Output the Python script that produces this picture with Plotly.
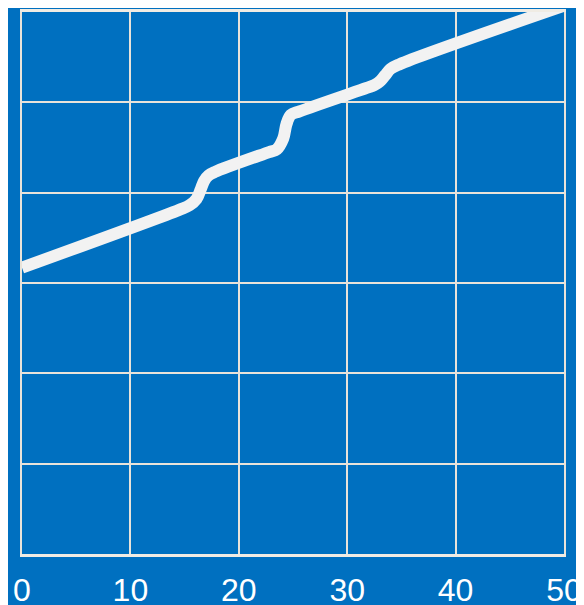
import plotly.graph_objects as go

# Data (points along the plotted curve)
x_vals = [0, 14.5, 15.45, 16.1, 16.5, 16.8, 17.2, 17.8,
          22.8, 23.5, 24.1, 24.4, 24.8, 25.6,
          31.8, 32.5, 33.0, 33.5, 34.0, 34.8, 50]
y_vals = [3.17, 3.81, 3.86, 3.93, 4.04, 4.13, 4.19, 4.23,
          4.45, 4.48, 4.60, 4.76, 4.86, 4.90,
          5.16, 5.19, 5.23, 5.30, 5.37, 5.42, 6.07]
x_ticks = [0, 10, 20, 30, 40, 50]

BG = "#0070C0"
GRID = "#E8E3DA"

fig = go.Figure()
fig.add_trace(go.Scatter(
    x=x_vals, y=y_vals, mode="lines",
    line=dict(color="#F2F2F2", width=12, shape="spline", smoothing=1),
    hoverinfo="skip", showlegend=False,
))

fig.update_layout(
    width=576, height=597,
    margin=dict(l=14, r=20, t=4, b=51, autoexpand=False),
    paper_bgcolor=BG, plot_bgcolor=BG,
    font=dict(family="Liberation Sans, Arial, sans-serif", color="white"),
    xaxis=dict(
        range=[0, 50], tickvals=x_ticks, ticktext=[str(v) for v in x_ticks],
        showgrid=True, gridcolor=GRID, gridwidth=2,
        zeroline=False, showline=True, linecolor="#F0ECE4", linewidth=2.5,
        mirror=True,
        ticks="", tickfont=dict(size=32, color="white"),
        ticklabelstandoff=6, automargin=False,
    ),
    yaxis=dict(
        range=[0, 6], dtick=1, showticklabels=False,
        showgrid=True, gridcolor=GRID, gridwidth=2,
        zeroline=False, showline=True, linecolor=GRID, linewidth=2,
        mirror=True, ticks="", automargin=False,
    ),
)

fig.write_html("out.html")
